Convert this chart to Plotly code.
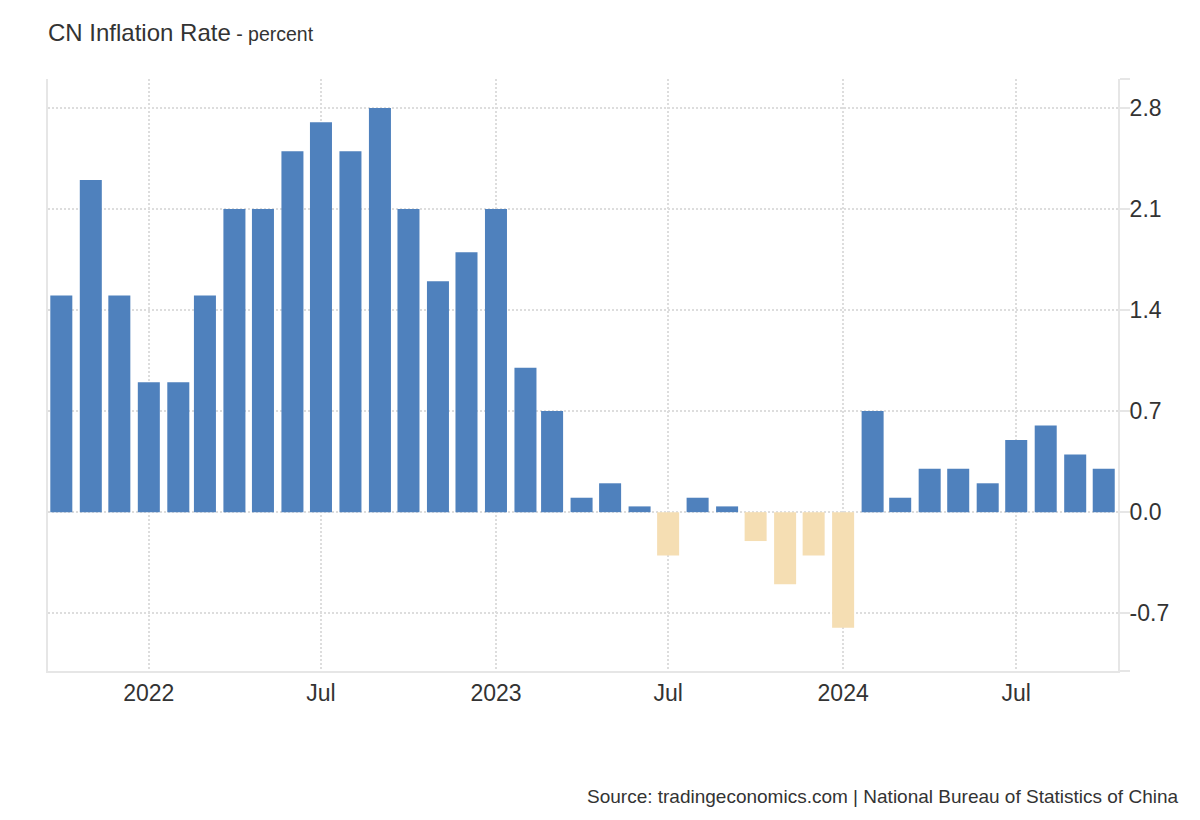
import plotly.graph_objects as go

months = ["2021-10-01", "2021-11-01", "2021-12-01",
          "2022-01-01", "2022-02-01", "2022-03-01", "2022-04-01", "2022-05-01", "2022-06-01",
          "2022-07-01", "2022-08-01", "2022-09-01", "2022-10-01", "2022-11-01", "2022-12-01",
          "2023-01-01", "2023-02-01", "2023-03-01", "2023-04-01", "2023-05-01", "2023-06-01",
          "2023-07-01", "2023-08-01", "2023-09-01", "2023-10-01", "2023-11-01", "2023-12-01",
          "2024-01-01", "2024-02-01", "2024-03-01", "2024-04-01", "2024-05-01", "2024-06-01",
          "2024-07-01", "2024-08-01", "2024-09-01", "2024-10-01"]
inflation = [1.5, 2.3, 1.5,
             0.9, 0.9, 1.5, 2.1, 2.1, 2.5,
             2.7, 2.5, 2.8, 2.1, 1.6, 1.8,
             2.1, 1.0, 0.7, 0.1, 0.2, 0.04,
             -0.3, 0.1, 0.04, -0.2, -0.5, -0.3,
             -0.8, 0.7, 0.1, 0.3, 0.3, 0.2,
             0.5, 0.6, 0.4, 0.3]

x_tick_vals = ["2022-01-01", "2022-07-01", "2023-01-01", "2023-07-01", "2024-01-01", "2024-07-01"]
x_tick_text = ["2022", "Jul", "2023", "Jul", "2024", "Jul"]
y_tick_vals = [-1.1, -0.7, 0.0, 0.7, 1.4, 2.1, 2.8, 3.0]
y_tick_text = ["", "-0.7", "0.0", "0.7", "1.4", "2.1", "2.8", ""]

POS = "#4f81bd"
NEG = "#f5deb3"
colors = [POS if v >= 0 else NEG for v in inflation]

FONT = "Liberation Sans, Arial, sans-serif"
GRID = "#dddddd"
AXIS = "#e6e6e6"

W, H = 1192, 812

fig = go.Figure(go.Bar(
    x=months, y=inflation,
    marker=dict(color=colors, line=dict(width=0)),
    width=2.0e9,
    hoverinfo="x+y",
))

fig.update_layout(
    width=W, height=H,
    margin=dict(l=40, r=82, t=71, b=149),
    plot_bgcolor="white", paper_bgcolor="white",
    showlegend=False,
    font=dict(family=FONT, color="#333333"),
    title=dict(
        text="CN Inflation Rate<span style='font-size:19.5px'> - percent</span>",
        font=dict(family=FONT, size=24, color="#333333"),
        x=40 / W, xref="container", xanchor="left",
        y=1 - 25 / H, yref="container", yanchor="middle",
    ),
    xaxis=dict(
        type="date",
        range=["2021-09-17", "2024-10-16"],
        tickvals=x_tick_vals, ticktext=x_tick_text,
        showgrid=True, gridcolor=GRID, gridwidth=2, griddash="2px,2px",
        showline=True, linecolor=AXIS, linewidth=2,
        ticks="", tickfont=dict(size=23, color="#333333"),
        zeroline=False,
    ),
    yaxis=dict(
        side="right",
        range=[-1.1, 3.0],
        tickvals=y_tick_vals, ticktext=y_tick_text,
        showgrid=True, gridcolor=GRID, gridwidth=2, griddash="2px,2px",
        showline=True, mirror=True, linecolor=AXIS, linewidth=2,
        ticks="outside", ticklen=10, tickcolor=AXIS, tickwidth=2,
        ticklabelstandoff=-5,
        tickfont=dict(size=23, color="#333333"),
        zeroline=False,
    ),
    annotations=[dict(
        text="Source: tradingeconomics.com | National Bureau of Statistics of China",
        xref="paper", yref="paper",
        x=(1180 - 48) / 1070, y=(671 - 797) / 592,
        xanchor="right", yanchor="middle", showarrow=False,
        font=dict(family=FONT, size=19, color="#333333"),
    )],
)

fig.write_html("out.html")
